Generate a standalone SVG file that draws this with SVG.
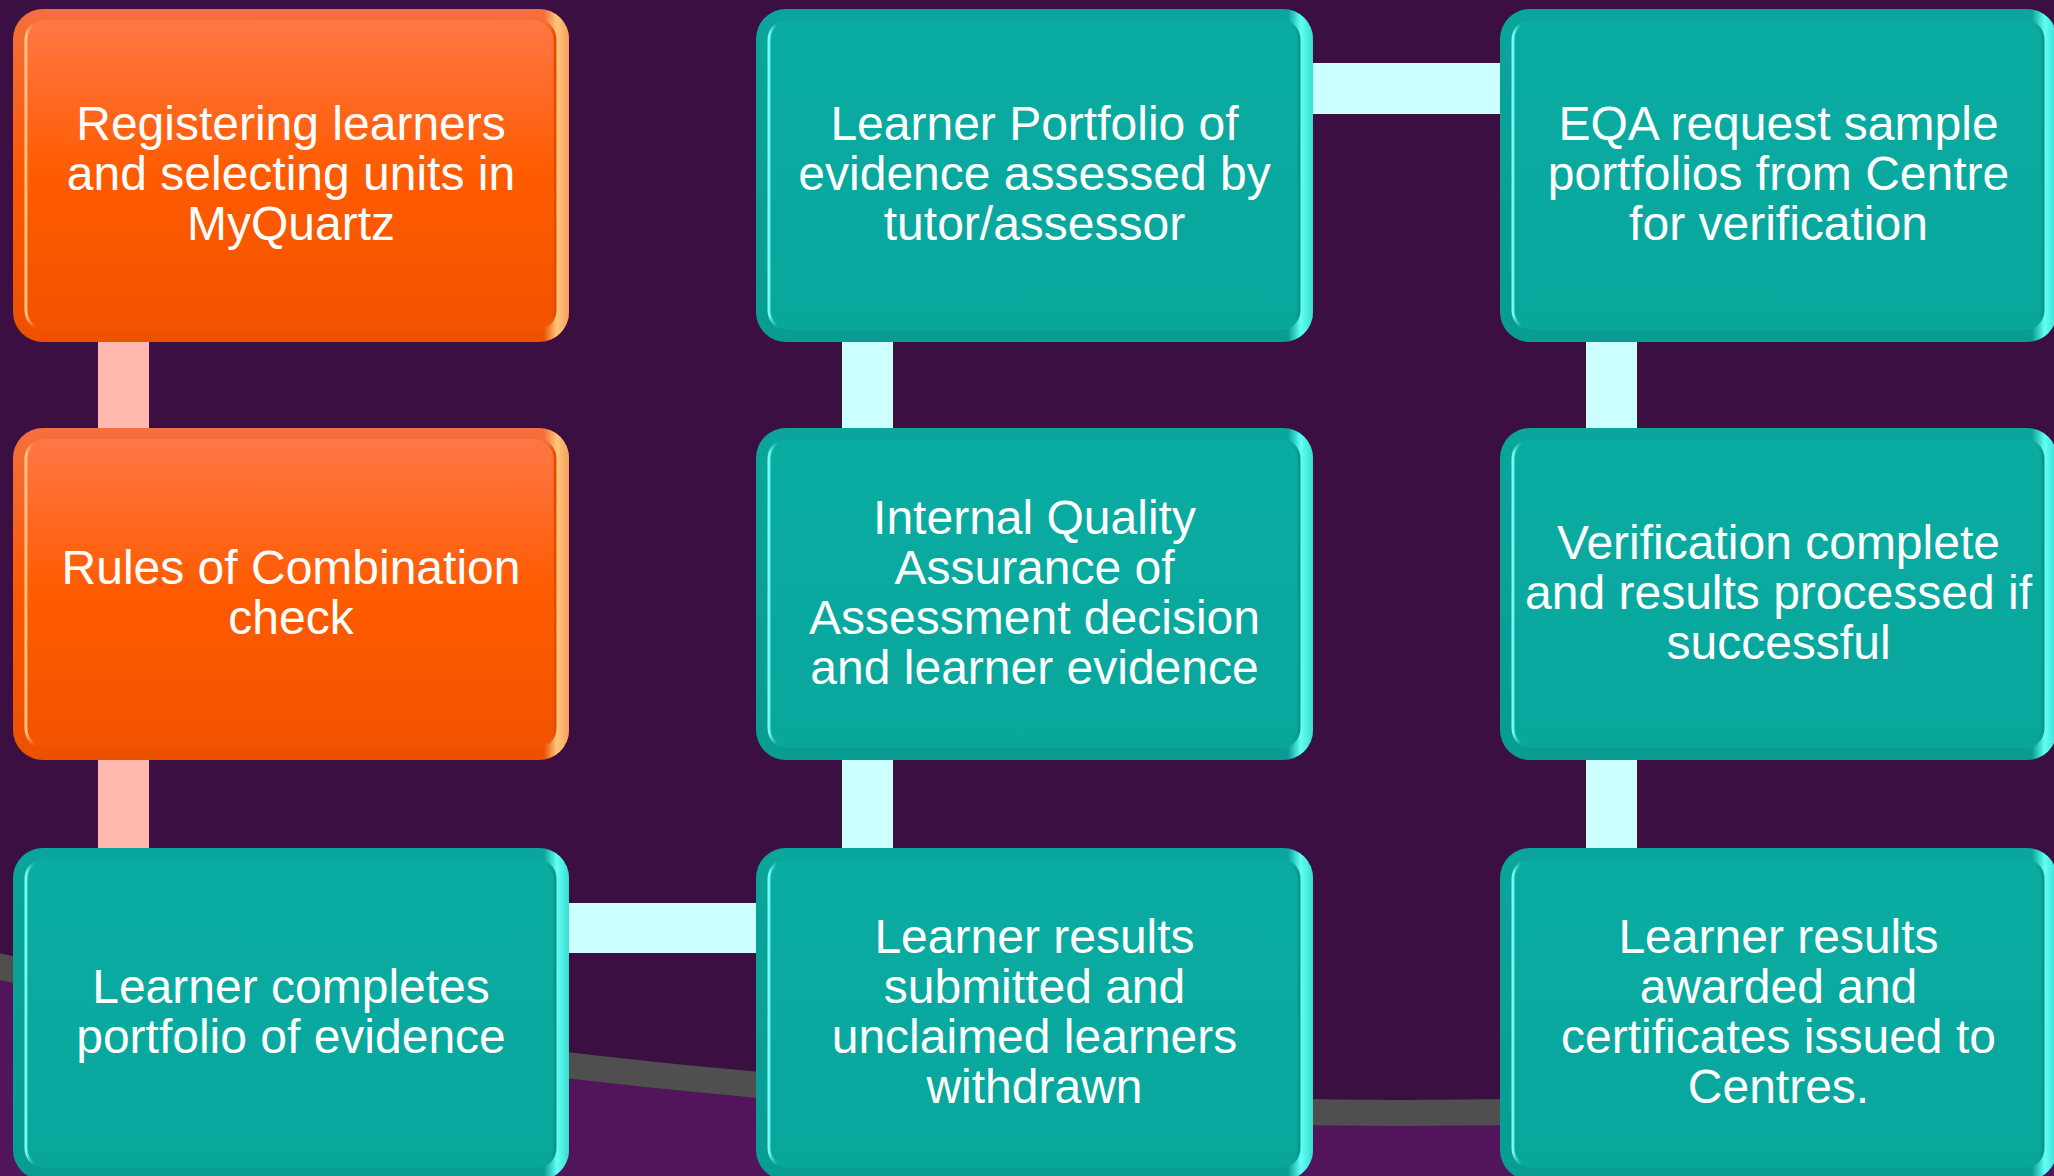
<svg xmlns="http://www.w3.org/2000/svg" width="2054" height="1176" viewBox="0 0 2054 1176">
<defs>
<linearGradient id="tV" x1="0" y1="0" x2="0" y2="1"><stop offset="0" stop-color="#0aa59c"/><stop offset="1" stop-color="#089c93"/></linearGradient>
<linearGradient id="tR" x1="0" y1="0" x2="1" y2="0"><stop offset="0" stop-color="#5ffcf2" stop-opacity="0"/><stop offset="0.955" stop-color="#5ffcf2" stop-opacity="0"/><stop offset="0.978" stop-color="#62fff4"/><stop offset="1" stop-color="#38dcd2"/></linearGradient>
<linearGradient id="tB" x1="0" y1="0" x2="0" y2="1"><stop offset="0" stop-color="#0aaca2"/><stop offset="1" stop-color="#09a69c"/></linearGradient>
<linearGradient id="tL" x1="0" y1="0" x2="1" y2="0"><stop offset="0" stop-color="#78fff6"/><stop offset="0.02" stop-color="#0aaba1" stop-opacity="0"/><stop offset="0.97" stop-color="#0aaba1" stop-opacity="0"/><stop offset="1" stop-color="#07958c"/></linearGradient>
<linearGradient id="oV" x1="0" y1="0" x2="0" y2="1"><stop offset="0" stop-color="#f4703f"/><stop offset="0.5" stop-color="#fb5900"/><stop offset="1" stop-color="#ec5100"/></linearGradient>
<linearGradient id="oR" x1="0" y1="0" x2="1" y2="0"><stop offset="0" stop-color="#ffc47a" stop-opacity="0"/><stop offset="0.955" stop-color="#ffc47a" stop-opacity="0"/><stop offset="0.978" stop-color="#ffc67c"/><stop offset="1" stop-color="#f7a060"/></linearGradient>
<linearGradient id="oB" x1="0" y1="0" x2="0" y2="1"><stop offset="0" stop-color="#ff7746"/><stop offset="0.5" stop-color="#ff5b00"/><stop offset="1" stop-color="#f25300"/></linearGradient>
<linearGradient id="oL" x1="0" y1="0" x2="1" y2="0"><stop offset="0" stop-color="#ffc88a"/><stop offset="0.02" stop-color="#ff6a20" stop-opacity="0"/><stop offset="0.97" stop-color="#ff6a20" stop-opacity="0"/><stop offset="1" stop-color="#e04e00"/></linearGradient>
<style>
.t{font-family:"Liberation Sans",Arial,sans-serif;font-size:48px;fill:#ffffff;text-anchor:middle}
.tv{fill:url(#tV)}.tr{fill:url(#tR)}.tb{fill:url(#tB);stroke:url(#tL);stroke-width:3}
.ov{fill:url(#oV)}.or{fill:url(#oR)}.ob{fill:url(#oB);stroke:url(#oL);stroke-width:3}
.cp{fill:#ffb8ae}.cc{fill:#ccffff}
</style>
</defs>
<rect x="0" y="0" width="2054" height="1176" fill="#3b0f42"/>
<path d="M -20 962 C 350 1050, 800 1110, 1400 1113 L 2100 1108 L 2100 1200 L -20 1200 Z" fill="#52145a"/>
<path d="M -20 962 C 350 1050, 800 1110, 1400 1113 L 2100 1108" fill="none" stroke="#4f4f4f" stroke-width="26"/>
<g id="connectors">
<rect class="cp" x="98" y="330" width="51" height="110"/>
<rect class="cp" x="98" y="750" width="51" height="110"/>
<rect class="cc" x="560" y="903" width="205" height="50"/>
<rect class="cc" x="842" y="330" width="51" height="110"/>
<rect class="cc" x="842" y="750" width="51" height="110"/>
<rect class="cc" x="1305" y="63" width="205" height="51"/>
<rect class="cc" x="1586" y="330" width="51" height="110"/>
<rect class="cc" x="1586" y="750" width="51" height="110"/>
</g>
<g id="n1">
<rect class="ov" x="13" y="9" width="556" height="333" rx="30"/>
<rect class="or" x="13" y="9" width="556" height="333" rx="30"/>
<rect class="ob" x="26" y="20" width="529" height="310" rx="20"/>
<text class="t" x="291" y="140">Registering learners</text>
<text class="t" x="291" y="190">and selecting units in</text>
<text class="t" x="291" y="240">MyQuartz</text>
</g>
<g id="n2">
<rect class="ov" x="13" y="428" width="556" height="332" rx="30"/>
<rect class="or" x="13" y="428" width="556" height="332" rx="30"/>
<rect class="ob" x="26" y="439" width="529" height="309" rx="20"/>
<text class="t" x="291" y="584">Rules of Combination</text>
<text class="t" x="291" y="634">check</text>
</g>
<g id="n3">
<rect class="tv" x="13" y="848" width="556" height="332" rx="30"/>
<rect class="tr" x="13" y="848" width="556" height="332" rx="30"/>
<rect class="tb" x="26" y="859" width="529" height="309" rx="20"/>
<text class="t" x="291" y="1003">Learner completes</text>
<text class="t" x="291" y="1053">portfolio of evidence</text>
</g>
<g id="n4">
<rect class="tv" x="756" y="9" width="557" height="333" rx="30"/>
<rect class="tr" x="756" y="9" width="557" height="333" rx="30"/>
<rect class="tb" x="769" y="20" width="530" height="310" rx="20"/>
<text class="t" x="1034.5" y="140">Learner Portfolio of</text>
<text class="t" x="1034.5" y="190">evidence assessed by</text>
<text class="t" x="1034.5" y="240">tutor/assessor</text>
</g>
<g id="n5">
<rect class="tv" x="756" y="428" width="557" height="332" rx="30"/>
<rect class="tr" x="756" y="428" width="557" height="332" rx="30"/>
<rect class="tb" x="769" y="439" width="530" height="309" rx="20"/>
<text class="t" x="1034.5" y="534">Internal Quality</text>
<text class="t" x="1034.5" y="584">Assurance of</text>
<text class="t" x="1034.5" y="634">Assessment decision</text>
<text class="t" x="1034.5" y="684">and learner evidence</text>
</g>
<g id="n6">
<rect class="tv" x="756" y="848" width="557" height="332" rx="30"/>
<rect class="tr" x="756" y="848" width="557" height="332" rx="30"/>
<rect class="tb" x="769" y="859" width="530" height="309" rx="20"/>
<text class="t" x="1034.5" y="953">Learner results</text>
<text class="t" x="1034.5" y="1003">submitted and</text>
<text class="t" x="1034.5" y="1053">unclaimed learners</text>
<text class="t" x="1034.5" y="1103">withdrawn</text>
</g>
<g id="n7">
<rect class="tv" x="1500" y="9" width="557" height="333" rx="30"/>
<rect class="tr" x="1500" y="9" width="557" height="333" rx="30"/>
<rect class="tb" x="1513" y="20" width="530" height="310" rx="20"/>
<text class="t" x="1778.5" y="140">EQA request sample</text>
<text class="t" x="1778.5" y="190">portfolios from Centre</text>
<text class="t" x="1778.5" y="240">for verification</text>
</g>
<g id="n8">
<rect class="tv" x="1500" y="428" width="557" height="332" rx="30"/>
<rect class="tr" x="1500" y="428" width="557" height="332" rx="30"/>
<rect class="tb" x="1513" y="439" width="530" height="309" rx="20"/>
<text class="t" x="1778.5" y="559">Verification complete</text>
<text class="t" x="1778.5" y="609">and results processed if</text>
<text class="t" x="1778.5" y="659">successful</text>
</g>
<g id="n9">
<rect class="tv" x="1500" y="848" width="557" height="332" rx="30"/>
<rect class="tr" x="1500" y="848" width="557" height="332" rx="30"/>
<rect class="tb" x="1513" y="859" width="530" height="309" rx="20"/>
<text class="t" x="1778.5" y="953">Learner results</text>
<text class="t" x="1778.5" y="1003">awarded and</text>
<text class="t" x="1778.5" y="1053">certificates issued to</text>
<text class="t" x="1778.5" y="1103">Centres.</text>
</g>
</svg>
